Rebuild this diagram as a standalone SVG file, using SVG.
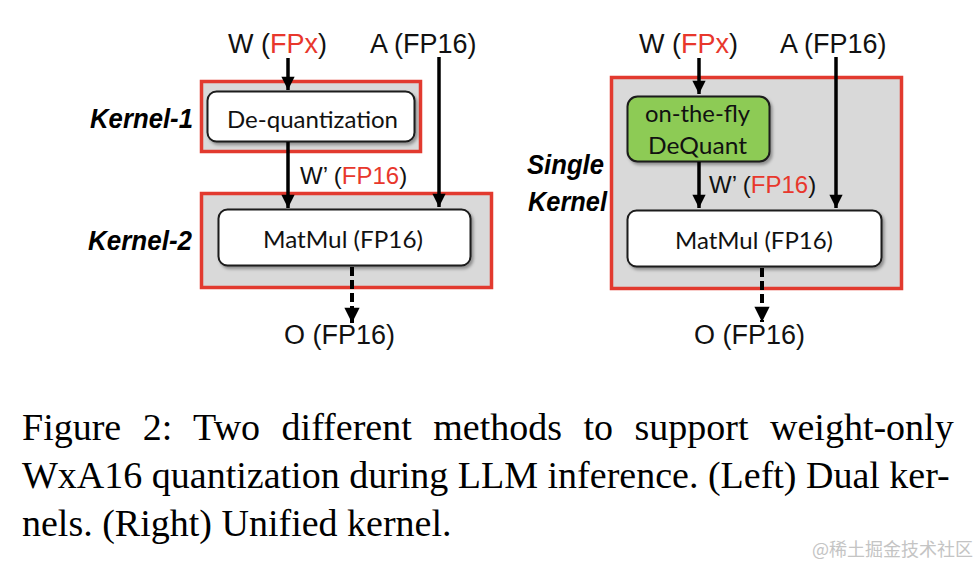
<svg xmlns="http://www.w3.org/2000/svg" width="980" height="564" viewBox="0 0 980 564">
<style>
.lbl{font-family:"Liberation Sans",Arial,sans-serif;font-size:27px;fill:#111}
.lbl2{font-family:"Liberation Sans",Arial,sans-serif;font-size:24px;fill:#111}
.red{fill:#e8372c}
.kern{font-family:"Liberation Sans",Arial,sans-serif;font-size:27px;font-weight:bold;font-style:italic;fill:#000}
.box{font-family:"Lato","Noto Sans",sans-serif;font-size:23px;fill:#111}
.kbox{fill:#d9d9d9;stroke:#e23a2f;stroke-width:3.5}
.wbox{fill:#fff;stroke:#1a1a1a;stroke-width:2}
.gbox{fill:#8dcb55;stroke:#1a1a1a;stroke-width:2}
.ln{stroke:#000;stroke-width:3.5;fill:none}
.dash{stroke:#000;stroke-width:4;fill:none;stroke-dasharray:9 4}
.cap{font-family:"Liberation Serif","Times New Roman",serif;font-size:38px;fill:#000}
</style>
<defs>
<marker id="ah" viewBox="0 0 10 10" refX="10" refY="5" markerWidth="4" markerHeight="3.8" markerUnits="strokeWidth" orient="auto">
<path d="M0,0 L10,5 L0,10 z" fill="#000"/>
</marker>
<filter id="sh" x="-10%" y="-10%" width="130%" height="140%">
<feDropShadow dx="2" dy="2.5" stdDeviation="1.5" flood-color="#000" flood-opacity="0.35"/>
</filter>
</defs>
<rect width="980" height="564" fill="#fff"/>

<!-- Left panel -->
<g id="kernel1">
<rect class="kbox" x="201.5" y="81.5" width="219" height="70"/>
<text class="kern" x="90" y="128" textLength="103" lengthAdjust="spacingAndGlyphs">Kernel-1</text>
</g>
<g id="kernel2">
<rect class="kbox" x="201.5" y="193.5" width="290" height="94"/>
<text class="kern" x="88" y="250" textLength="104" lengthAdjust="spacingAndGlyphs">Kernel-2</text>
</g>
<g id="dequant">
<rect class="wbox" x="207.5" y="91.5" width="207" height="50" rx="9" filter="url(#sh)"/>
<text class="box" x="227" y="128" textLength="171" lengthAdjust="spacingAndGlyphs">De-quantization</text>
</g>
<g id="matmul-left">
<rect class="wbox" x="218.5" y="209.5" width="252" height="56" rx="9" filter="url(#sh)"/>
<text class="box" x="263" y="248" textLength="160" lengthAdjust="spacingAndGlyphs">MatMul (FP16)</text>
</g>
<g id="w-left"><text class="lbl" x="228" y="53">W (<tspan class="red">FPx</tspan>)</text></g>
<g id="a-left"><text class="lbl" x="370" y="53">A (FP16)</text></g>
<g id="wp-left"><text class="lbl2" x="300" y="184">W’ (<tspan class="red">FP16</tspan>)</text></g>
<g id="o-left"><text class="lbl" x="284" y="344">O (FP16)</text></g>

<!-- Right panel -->
<g id="single-kernel">
<rect class="kbox" x="611.5" y="77.5" width="290" height="211"/>
<text class="kern" x="527" y="174" textLength="77" lengthAdjust="spacingAndGlyphs">Single</text>
<text class="kern" x="528" y="211" textLength="79" lengthAdjust="spacingAndGlyphs">Kernel</text>
</g>
<g id="otf-dequant">
<rect class="gbox" x="627.5" y="96.5" width="142" height="65" rx="10" filter="url(#sh)"/>
<text class="box" x="645" y="122" textLength="105" lengthAdjust="spacingAndGlyphs">on-the-fly</text>
<text class="box" x="648" y="154" textLength="99" lengthAdjust="spacingAndGlyphs">DeQuant</text>
</g>
<g id="matmul-right">
<rect class="wbox" x="627.5" y="210.5" width="254" height="56" rx="9" filter="url(#sh)"/>
<text class="box" x="675" y="249" textLength="158" lengthAdjust="spacingAndGlyphs">MatMul (FP16)</text>
</g>
<g id="w-right"><text class="lbl" x="639" y="53">W (<tspan class="red">FPx</tspan>)</text></g>
<g id="a-right"><text class="lbl" x="780" y="53">A (FP16)</text></g>
<g id="wp-right"><text class="lbl2" x="709" y="193">W’ (<tspan class="red">FP16</tspan>)</text></g>
<g id="o-right"><text class="lbl" x="694" y="344">O (FP16)</text></g>

<g id="connectors">
<line class="ln" x1="288" y1="58" x2="288" y2="90" marker-end="url(#ah)"/>
<line class="ln" x1="439" y1="57" x2="439" y2="207" marker-end="url(#ah)"/>
<line class="ln" x1="288" y1="142" x2="288" y2="208" marker-end="url(#ah)"/>
<line class="dash" x1="352" y1="267" x2="352" y2="323" marker-end="url(#ah)"/>
<line class="ln" x1="699" y1="58" x2="699" y2="94" marker-end="url(#ah)"/>
<line class="ln" x1="836" y1="57" x2="836" y2="208" marker-end="url(#ah)"/>
<line class="ln" x1="699" y1="162" x2="699" y2="208" marker-end="url(#ah)"/>
<line class="dash" x1="762" y1="268" x2="762" y2="322" marker-end="url(#ah)"/>
</g>

<g id="caption">
<text class="cap" x="22" y="440" word-spacing="12">Figure 2: Two different methods to support weight-only</text>
<text class="cap" x="22" y="488">WxA16 quantization during LLM inference. (Left) Dual ker-</text>
<text class="cap" x="22" y="536">nels. (Right) Unified kernel.</text>
</g>
<text x="973" y="556" text-anchor="end" font-family="'Noto Sans CJK SC','Liberation Sans',sans-serif" font-size="18" fill="#c4c4c4">@稀土掘金技术社区</text>
</svg>
